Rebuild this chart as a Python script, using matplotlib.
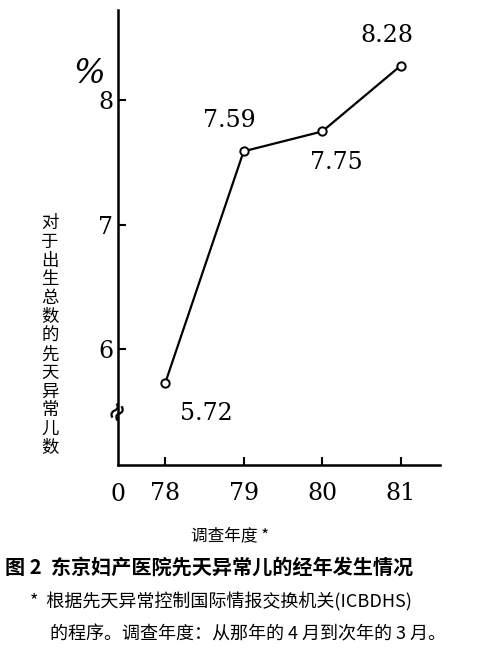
import matplotlib
matplotlib.use("Agg")
import matplotlib.pyplot as plt

plt.rcParams['font.family'] = ['Noto Sans CJK SC', 'DejaVu Sans']

years = [78, 79, 80, 81]
rates = [5.72, 7.59, 7.75, 8.28]
labels = ["5.72", "7.59", "7.75", "8.28"]
label_offsets = [(30, -22), (-10, 22), (10, -22), (-10, 22)]

fig = plt.figure(figsize=(5, 6.58), dpi=100)
ax = fig.add_axes([0.236, 0.293, 0.644, 0.692])
ax.plot(years, rates, color="black", lw=1.6, marker="o", ms=6,
        mfc="white", mec="black", mew=1.4)
for x, y, t, (dx, dy) in zip(years, rates, labels, label_offsets):
    ax.annotate(t, (x, y), xytext=(dx, dy), textcoords="offset points",
                ha="center", va="center", fontsize=17, family="DejaVu Serif")

ax.set_xlim(77.4, 81.5)
ax.set_ylim(5.06, 8.73)
ax.set_xticks(years)
ax.set_yticks([6, 7, 8])
ax.tick_params(labelsize=17, direction="in", length=6, width=1.5)
ax.tick_params(axis="x", pad=12)
for lab in ax.get_xticklabels() + ax.get_yticklabels():
    lab.set_family("DejaVu Serif")
for s in ["top", "right"]:
    ax.spines[s].set_visible(False)
for s in ["left", "bottom"]:
    ax.spines[s].set_linewidth(1.8)
ax.text(77.4, 4.92, "0", ha="center", va="top", fontsize=17, family="DejaVu Serif")
ax.text(77.4, 5.5, "≈", rotation=60, ha="center", va="center", fontsize=16,
        weight="bold")
ax.text(-0.09, 0.86, "%", transform=ax.transAxes, fontsize=24, style="italic",
        ha="center", va="center", family="DejaVu Serif")

fig.text(0.10, 0.49, "\n".join("对于出生总数的先天异常儿数"), ha="center", va="center",
         fontsize=12.5, linespacing=1.05)
fig.text(0.46, 0.185, "调查年度 *", ha="center", va="center", fontsize=12)
fig.text(0.01, 0.138, "图 2  东京妇产医院先天异常儿的经年发生情况", ha="left",
         va="center", fontsize=14.5, weight="bold")
fig.text(0.06, 0.085, "*  根据先天异常控制国际情报交换机关(ICBDHS)", ha="left",
         va="center", fontsize=13)
fig.text(0.10, 0.035, "的程序。调查年度：从那年的 4 月到次年的 3 月。", ha="left",
         va="center", fontsize=13)
fig.savefig("out.png", dpi=100)
